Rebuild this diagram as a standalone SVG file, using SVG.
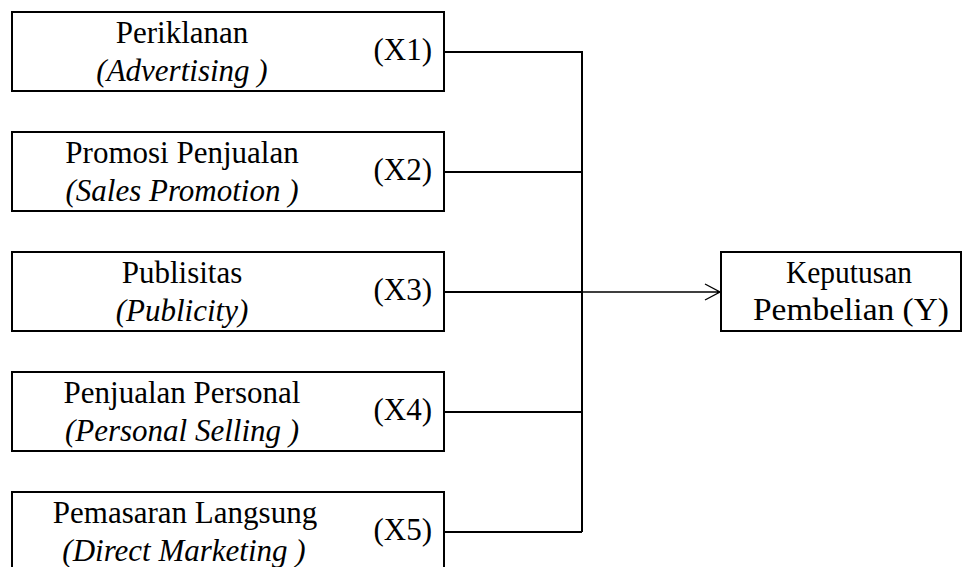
<svg xmlns="http://www.w3.org/2000/svg" width="962" height="567" viewBox="0 0 962 567">
<style>
.box{fill:#fff;stroke:#000;stroke-width:2}
.t{font-family:"Liberation Serif","Times New Roman",serif;font-size:31px;fill:#000}
.c{text-anchor:middle}
.i{font-style:italic}
.e{text-anchor:end}
.ln{fill:none;stroke:#000;stroke-width:2}
.ar{fill:none;stroke:#000;stroke-width:1.4}
</style>
<rect width="962" height="567" fill="#fff"/>
<g id="connectors">
<path class="ln" d="M444 52H582V532M444 172H582M444 292H582M444 412H582M444 532H582"/>
<path class="ar" d="M582 292H719M705 284L720 292L705 300"/>
</g>
<g id="x1">
<rect class="box" x="12" y="12" width="432" height="79"/>
<text class="t c" x="182" y="43">Periklanan</text>
<text class="t c i" x="182" y="81">(Advertising )</text>
<text class="t e" x="432" y="60">(X1)</text>
</g>
<g id="x2">
<rect class="box" x="12" y="132" width="432" height="79"/>
<text class="t c" x="182" y="163">Promosi Penjualan</text>
<text class="t c i" x="182" y="201">(Sales Promotion )</text>
<text class="t e" x="432" y="180">(X2)</text>
</g>
<g id="x3">
<rect class="box" x="12" y="252" width="432" height="79"/>
<text class="t c" x="182" y="283">Publisitas</text>
<text class="t c i" x="182" y="321">(Publicity)</text>
<text class="t e" x="432" y="300">(X3)</text>
</g>
<g id="x4">
<rect class="box" x="12" y="372" width="432" height="79"/>
<text class="t c" x="182" y="403">Penjualan Personal</text>
<text class="t c i" x="182" y="441">(Personal Selling )</text>
<text class="t e" x="432" y="420">(X4)</text>
</g>
<g id="x5">
<rect class="box" x="12" y="492" width="432" height="79"/>
<text class="t c" x="185" y="523">Pemasaran Langsung</text>
<text class="t c i" x="184" y="561">(Direct Marketing )</text>
<text class="t e" x="432" y="540">(X5)</text>
</g>
<g id="y">
<rect class="box" x="721" y="252" width="240" height="79"/>
<text class="t c" x="849" y="283" textLength="126" lengthAdjust="spacingAndGlyphs">Keputusan</text>
<text class="t c" x="851" y="320" style="font-size:32px" textLength="196" lengthAdjust="spacingAndGlyphs">Pembelian (Y)</text>
</g>
</svg>
